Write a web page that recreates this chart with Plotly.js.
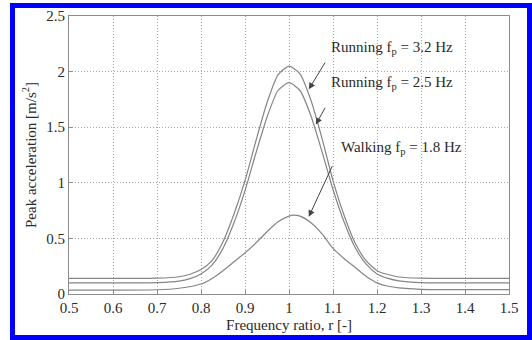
<!DOCTYPE html>
<html>
<head>
<meta charset="utf-8">
<script src="https://cdn.plot.ly/plotly-3.0.1.min.js"></script>
<style>
  html, body { margin: 0; padding: 0; background: #fff; }
  #wrap { position: relative; width: 532px; height: 340px; overflow: hidden; }
  #chart { position: absolute; left: 0; top: 0; width: 532px; height: 340px; }
  #frame { position: absolute; left: 10px; top: 3px; width: 522px; height: 337px;
           box-sizing: border-box; border: 5px solid #0000ff; pointer-events: none; }
</style>
</head>
<body>
<div id="wrap"><div id="chart"></div><div id="frame"></div></div>
<script>
// Frequency ratio r
const ratio = [0.5, 0.6, 0.7, 0.75, 0.775, 0.8, 0.825, 0.85, 0.875, 0.9, 0.925, 0.95, 0.975, 1.0,
               1.025, 1.05, 1.075, 1.1, 1.125, 1.15, 1.175, 1.2, 1.225, 1.25, 1.3, 1.4, 1.5];
// Peak acceleration [m/s^2]
const running32 = [0.14, 0.14, 0.142, 0.155, 0.178, 0.22, 0.30, 0.47, 0.72, 1.02, 1.38, 1.72, 1.97, 2.05,
                   1.98, 1.74, 1.40, 1.02, 0.71, 0.46, 0.30, 0.21, 0.175, 0.153, 0.142, 0.14, 0.14];
const running25 = [0.10, 0.10, 0.102, 0.115, 0.138, 0.18, 0.26, 0.41, 0.64, 0.93, 1.27, 1.59, 1.83, 1.90,
                   1.83, 1.60, 1.28, 0.94, 0.65, 0.42, 0.27, 0.18, 0.14, 0.118, 0.102, 0.10, 0.10];
const ratioWalk = [0.5, 0.6, 0.7, 0.75, 0.8, 0.825, 0.85, 0.875, 0.9, 0.925, 0.95, 0.975, 1.0, 1.01,
                   1.025, 1.05, 1.075, 1.1, 1.125, 1.15, 1.175, 1.2, 1.225, 1.25, 1.3, 1.4, 1.5];
const walking18 = [0.035, 0.035, 0.038, 0.052, 0.09, 0.14, 0.21, 0.29, 0.37, 0.46, 0.56, 0.65, 0.70, 0.71,
                   0.70, 0.64, 0.54, 0.41, 0.32, 0.24, 0.16, 0.10, 0.07, 0.055, 0.042, 0.04, 0.04];

const xTicks = [0.5, 0.6, 0.7, 0.8, 0.9, 1, 1.1, 1.2, 1.3, 1.4, 1.5];
const xTickText = ['0.5', '0.6', '0.7', '0.8', '0.9', '1', '1.1', '1.2', '1.3', '1.4', '1.5'];
const yTicks = [0, 0.5, 1, 1.5, 2, 2.5];
const yTickText = ['0', '0.5', '1', '1.5', '2', '2.5'];

const labels = ['Running f<sub>p</sub> = 3.2 Hz', 'Running f<sub>p</sub> = 2.5 Hz', 'Walking f<sub>p</sub> = 1.8 Hz'];
const labelX = [1.091, 1.091, 1.114];
const labelY = [2.21, 1.90, 1.31];
const arrowTail = [[1.084, 2.094], [1.084, 1.688], [1.10, 1.164]];
const arrowTip = [[1.045, 1.841], [1.061, 1.525], [1.045, 0.695]];

const FONT = 'Liberation Serif, Times New Roman, serif';
const lineStyle = {color: '#858585', width: 1.2, shape: 'spline', smoothing: 0.6};

const traces = [
  {x: ratio, y: running32, type: 'scatter', mode: 'lines', line: lineStyle, name: 'Running 3.2 Hz'},
  {x: ratio, y: running25, type: 'scatter', mode: 'lines', line: lineStyle, name: 'Running 2.5 Hz'},
  {x: ratioWalk, y: walking18, type: 'scatter', mode: 'lines', line: lineStyle, name: 'Walking 1.8 Hz'}
];

const annotations = [];
for (let i = 0; i < labels.length; i++) {
  annotations.push({x: labelX[i], y: labelY[i], xref: 'x', yref: 'y', text: labels[i],
    showarrow: false, xanchor: 'left', yanchor: 'middle',
    font: {family: FONT, size: 15, color: '#2a2a2a'}});
  annotations.push({x: arrowTip[i][0], y: arrowTip[i][1], ax: arrowTail[i][0], ay: arrowTail[i][1],
    xref: 'x', yref: 'y', axref: 'x', ayref: 'y', text: '', showarrow: true,
    arrowhead: 2, arrowsize: 1.3, arrowwidth: 1, arrowcolor: '#444'});
}

const axisCommon = {
  showline: true, linecolor: '#8c8c8c', linewidth: 1, mirror: true,
  showgrid: true, gridcolor: '#a8a8a8', griddash: '1px,2px', gridwidth: 1,
  ticks: 'inside', ticklen: 4, tickcolor: '#8c8c8c',
  zeroline: false,
  tickfont: {family: FONT, size: 15, color: '#2a2a2a'}
};

const layout = {
  width: 532, height: 340,
  margin: {l: 69, r: 23, t: 16, b: 46},
  paper_bgcolor: '#fff', plot_bgcolor: '#fff',
  showlegend: false,
  xaxis: Object.assign({}, axisCommon, {
    range: [0.5, 1.5], tickvals: xTicks, ticktext: xTickText,
    title: {text: 'Frequency ratio, r [-]', font: {family: FONT, size: 15, color: '#2a2a2a'}, standoff: 4}
  }),
  yaxis: Object.assign({}, axisCommon, {
    range: [0, 2.5], tickvals: yTicks, ticktext: yTickText,
    title: {text: 'Peak acceleration [m/s<sup>2</sup>]', font: {family: FONT, size: 15, color: '#2a2a2a'}, standoff: 6}
  }),
  annotations: annotations
};

Plotly.newPlot('chart', traces, layout, {staticPlot: true, displayModeBar: false});
</script>
</body>
</html>
